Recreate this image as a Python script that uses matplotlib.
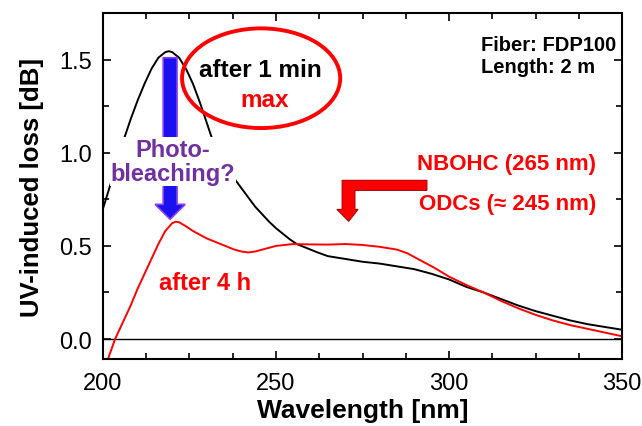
import numpy as np
import matplotlib.pyplot as plt
import matplotlib as mpl
from matplotlib.patches import Ellipse, Polygon, FancyArrow
from matplotlib.ticker import MultipleLocator

mpl.rcParams['font.family'] = ['Liberation Sans', 'DejaVu Sans']

# UV-induced loss after 1 min of irradiation
wl_1min = [200, 202, 204, 206, 208, 210, 212, 214, 216, 218, 219, 220, 222, 224,
           226, 228, 230, 232, 234, 236, 238, 240, 242, 244, 246, 248, 250, 252,
           254, 256, 258, 260, 262, 265, 270, 275, 280, 285, 290, 295, 300, 305,
           310, 315, 320, 325, 330, 335, 340, 345, 350]
loss_1min = [0.70, 0.82, 0.94, 1.07, 1.18, 1.28, 1.37, 1.45, 1.51, 1.54, 1.545,
             1.54, 1.51, 1.45, 1.37, 1.27, 1.16, 1.05, 0.97, 0.91, 0.86, 0.81,
             0.76, 0.71, 0.67, 0.63, 0.595, 0.565, 0.535, 0.51, 0.495, 0.48, 0.465,
             0.445, 0.43, 0.415, 0.405, 0.39, 0.375, 0.35, 0.32, 0.28, 0.25, 0.215,
             0.18, 0.15, 0.125, 0.10, 0.08, 0.065, 0.05]

# UV-induced loss after 4 h
wl_4h = [201, 203.5, 206, 208, 210, 212, 214, 216, 218, 220, 221, 222, 224, 226,
         228, 230, 232, 234, 236, 238, 240, 242, 244, 246, 248, 250, 255, 260, 265,
         270, 275, 280, 285, 288, 292, 296, 300, 305, 310, 315, 320, 325, 330, 335,
         340, 345, 350]
loss_4h = [-0.13, 0.0, 0.10, 0.18, 0.27, 0.35, 0.43, 0.51, 0.58, 0.622, 0.63, 0.627,
           0.605, 0.58, 0.56, 0.54, 0.525, 0.51, 0.495, 0.48, 0.47, 0.465, 0.47, 0.48,
           0.49, 0.50, 0.51, 0.508, 0.507, 0.51, 0.505, 0.495, 0.48, 0.46, 0.42,
           0.38, 0.335, 0.29, 0.25, 0.205, 0.165, 0.13, 0.10, 0.075, 0.055, 0.035,
           0.015]

fig = plt.figure(figsize=(6.42, 4.27), dpi=100)
ax = fig.add_axes([0.1604, 0.1569, 0.8086, 0.8103])

ax.axhline(0, color='black', lw=1.0, zorder=1)
ax.plot(wl_1min, loss_1min, color='black', lw=1.4, zorder=2)
ax.plot(wl_4h, loss_4h, color='red', lw=1.4, zorder=2)

ax.set_xlim(200, 350)
ax.set_ylim(-0.107, 1.75)
ax.xaxis.set_major_locator(MultipleLocator(50))
ax.xaxis.set_minor_locator(MultipleLocator(12.5))
ax.yaxis.set_major_locator(MultipleLocator(0.5))
ax.yaxis.set_minor_locator(MultipleLocator(0.25))
ax.yaxis.set_major_formatter(mpl.ticker.FormatStrFormatter('%.1f'))
ax.tick_params(which='both', direction='in', top=True, right=True, width=1.2)
ax.tick_params(which='major', length=6, labelsize=17)
ax.tick_params(axis='x', which='major', pad=9)
ax.tick_params(axis='y', which='major', pad=8)
ax.tick_params(which='minor', length=4)
for s in ax.spines.values():
    s.set_linewidth(1.5)

ax.set_xlabel('Wavelength [nm]', fontsize=19, fontweight='bold', labelpad=3)
ax.set_ylabel('UV-induced loss [dB]', fontsize=18.5, fontweight='bold', labelpad=11)

# photobleaching arrow
ax.add_patch(FancyArrow(219.4, 1.51, 0, -0.867, width=4.0, head_width=8.7,
                        head_length=0.08, length_includes_head=True,
                        facecolor='#1a10f0', edgecolor='#8a40f0', lw=1.2, zorder=3))
ax.text(220.2, 0.953, 'Photo-\nbleaching?', color='#7030A0', fontsize=17,
        fontweight='bold', ha='center', va='center', linespacing=1.05, zorder=4,
        bbox=dict(facecolor='white', edgecolor='none', pad=0.5))

# circled label of the 1 min spectrum
ax.add_patch(Ellipse((245.7, 1.40), 45.7, 0.535, fill=False, edgecolor='red',
                     lw=2.8, zorder=3))
ax.text(245.6, 1.446, 'after 1 min', color='black', fontsize=17.5, fontweight='bold',
        ha='center', va='center', zorder=4,
        bbox=dict(facecolor='white', edgecolor='none', pad=0.3))
ax.text(246.8, 1.285, 'max', color='red', fontsize=17.5, fontweight='bold',
        ha='center', va='center', zorder=4)

ax.text(229.6, 0.305, 'after 4 h', color='red', fontsize=17, fontweight='bold',
        ha='center', va='center')

ax.text(0.988, 0.935, 'Fiber: FDP100\nLength: 2 m', transform=ax.transAxes,
        fontsize=14.5, fontweight='bold', ha='right', va='top', linespacing=1.2,
        multialignment='left')

ax.text(0.950, 0.566, 'NBOHC (265 nm)', transform=ax.transAxes, color='red',
        fontsize=16, fontweight='bold', ha='right', va='center')
ax.text(0.950, 0.448, 'ODCs (\u2248 245 nm)', transform=ax.transAxes, color='red',
        fontsize=16, fontweight='bold', ha='right', va='center')

# bent arrow pointing to the defect band
bent = [(269.1, 0.852), (293.6, 0.852), (293.6, 0.798), (272.8, 0.798),
        (272.8, 0.696), (273.7, 0.696), (271.0, 0.632), (267.6, 0.696),
        (269.1, 0.696)]
ax.add_patch(Polygon(bent, closed=True, facecolor='red', edgecolor='#b00000',
                     lw=0.8, zorder=3))

fig.savefig('out.png', dpi=100)
